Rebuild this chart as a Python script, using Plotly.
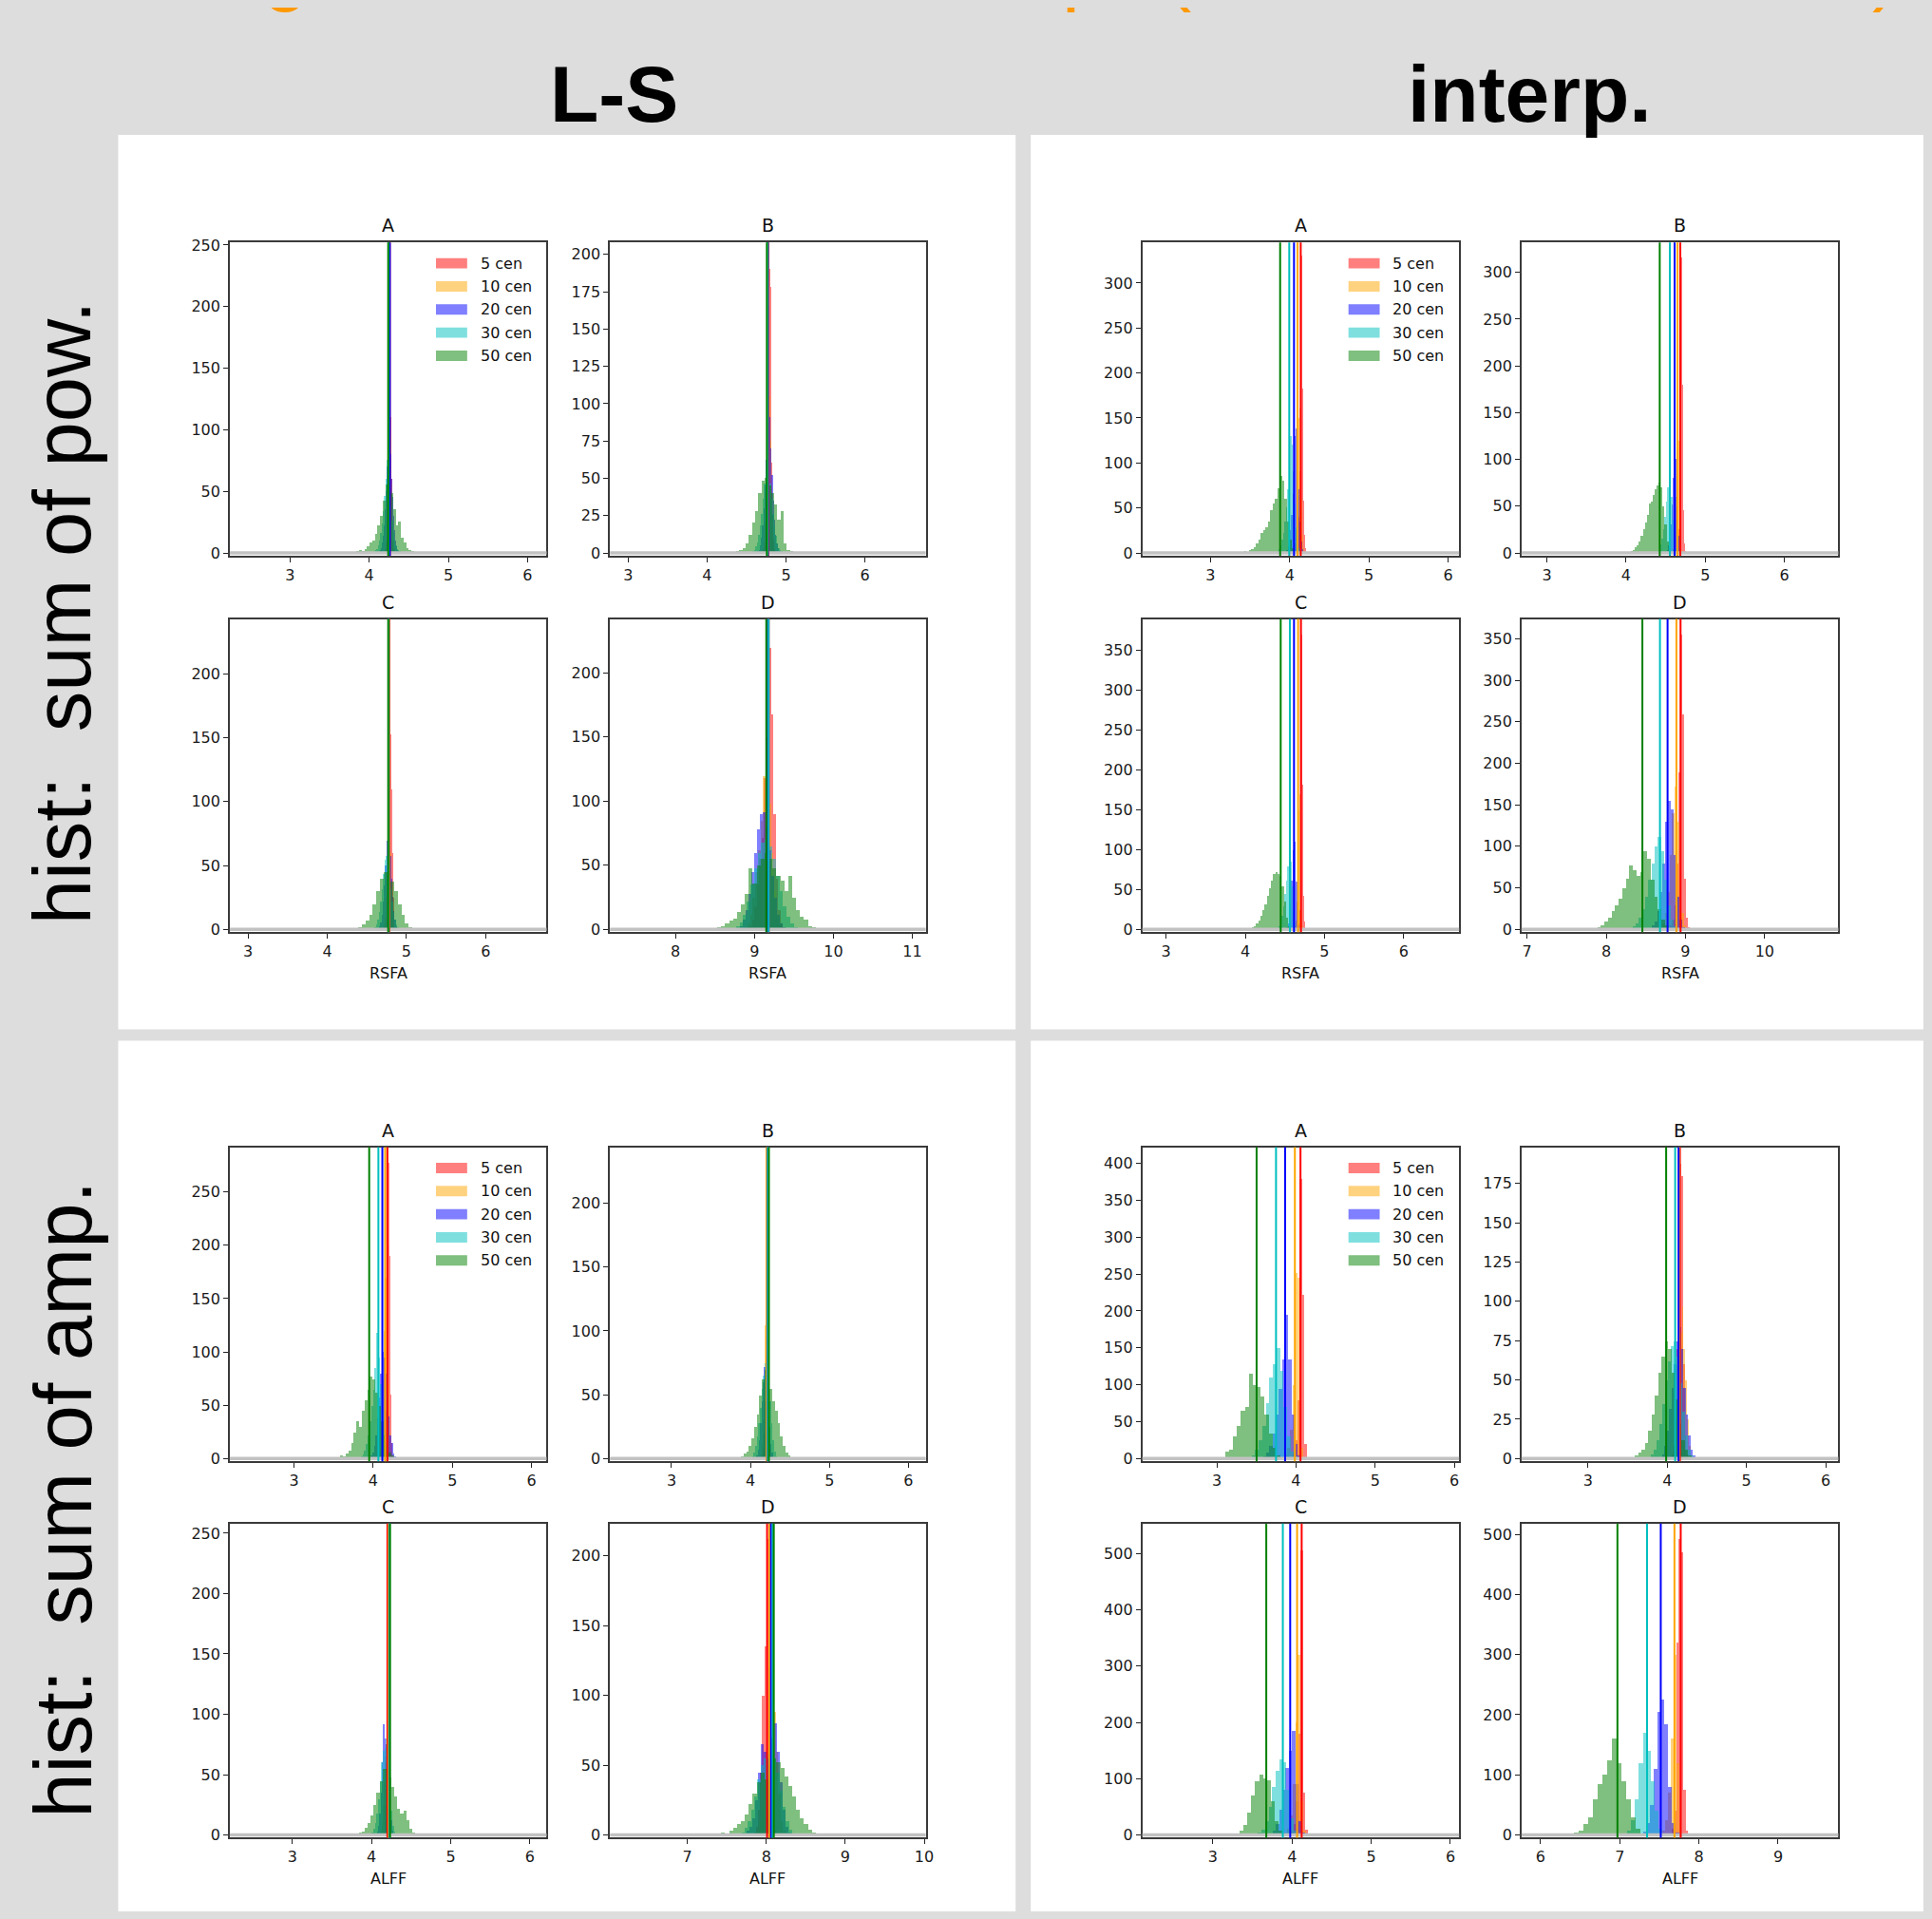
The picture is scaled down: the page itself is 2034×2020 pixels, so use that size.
import plotly.graph_objects as go

PAGE_W, PAGE_H = 2034, 2020
OFF = 8                       # default page margin around the figure
W, H = PAGE_W - 2 * OFF, PAGE_H - 2 * OFF


def px_x(p):
    return (p - OFF) / W


def px_y(p):
    return 1 - (p - OFF) / H


# ------------------------------------------------------------------ data
series_names = ["5 cen", "10 cen", "20 cen", "30 cen", "50 cen"]
row_titles = ["hist:\u00a0 sum of pow.", "hist:\u00a0 sum of amp."]
col_titles = ["L-S", "interp."]
subplot_letters = ["A", "B", "C", "D"]
x_labels = ["RSFA", "ALFF"]
# super-title: only the lower ends of a few glyphs are inside the picture
title_glyphs = ["g", "p", "(", ")"]
title_glyph_px = [302, 1147, 1246, 1994]

pow_ls_A_start = [4.205, 4.18, 4.12, 4.06, 3.84]
pow_ls_A_width = [0.008, 0.011, 0.013, 0.016, 0.033]
pow_ls_A_counts = [
    [2, 5, 12, 28, 60, 90, 130, 172, 110, 60, 25, 8, 3],
    [1, 3, 8, 18, 40, 70, 95, 150, 95, 55, 25, 10, 4, 1],
    [1, 2, 4, 8, 14, 22, 35, 50, 70, 85, 103, 80, 60, 45, 30, 18, 10, 5, 2, 1],
    [1, 2, 3, 6, 10, 16, 24, 34, 46, 60, 75, 62, 50, 38, 26, 17, 10, 6, 3, 2, 1],
    [1, 2, 1, 3, 5, 8, 10, 15, 22, 30, 42, 55, 52, 48, 35, 22, 25, 12, 8, 4, 2, 1],
]
pow_ls_A_means = [4.26, 4.255, 4.26, 4.245, 4.24]

pow_ls_B_start = [4.72, 4.69, 4.64, 4.58, 4.37]
pow_ls_B_width = [0.01, 0.012, 0.015, 0.018, 0.04]
pow_ls_B_counts = [
    [2, 6, 15, 35, 70, 118, 165, 190, 178, 120, 60, 25, 8, 2],
    [1, 3, 8, 20, 40, 70, 100, 118, 105, 75, 45, 22, 10, 3, 1],
    [1, 2, 5, 10, 18, 30, 45, 62, 77, 88, 91, 70, 52, 35, 22, 12, 6, 3, 1],
    [1, 2, 4, 7, 12, 18, 26, 36, 46, 56, 60, 55, 46, 36, 26, 18, 11, 6, 3, 2, 1],
    [1, 2, 3, 6, 12, 20, 28, 40, 48, 50, 45, 40, 32, 22, 28, 6, 2, 1],
]
pow_ls_B_means = [4.775, 4.77, 4.77, 4.765, 4.757]

pow_ls_C_start = [4.74, 4.70, 4.64, 4.58, 4.35]
pow_ls_C_width = [0.01, 0.012, 0.015, 0.018, 0.045]
pow_ls_C_counts = [
    [2, 8, 20, 45, 80, 120, 153, 110, 60, 25, 8, 2],
    [1, 4, 10, 25, 45, 70, 95, 88, 60, 35, 15, 5, 1],
    [1, 3, 6, 12, 22, 35, 50, 70, 80, 75, 58, 40, 26, 15, 8, 3, 1],
    [1, 2, 4, 8, 14, 22, 32, 44, 55, 58, 52, 42, 32, 22, 14, 8, 4, 2, 1],
    [1, 2, 4, 7, 12, 20, 30, 40, 45, 42, 38, 30, 20, 12, 5, 2, 1],
]
pow_ls_C_means = [4.785, 4.78, 4.775, 4.775, 4.77]

pow_ls_D_start = [8.94, 8.88, 8.78, 8.72, 8.38]
pow_ls_D_width = [0.03, 0.033, 0.036, 0.046, 0.05]
pow_ls_D_counts = [
    [3, 8, 18, 35, 55, 72, 118, 150, 220, 168, 90, 40, 15, 5, 2],
    [2, 5, 12, 25, 45, 62, 85, 120, 140, 98, 60, 30, 12, 4, 1],
    [1, 3, 8, 15, 28, 45, 60, 78, 90, 92, 80, 62, 42, 25, 12, 5, 2],
    [1, 3, 6, 12, 22, 35, 48, 60, 68, 70, 65, 55, 42, 30, 18, 10, 5, 2, 1],
    [1, 0, 1, 2, 3, 5, 7, 9, 14, 20, 28, 48, 36, 50, 55, 60, 55, 48, 42, 38, 30, 42, 25, 15, 10, 8, 3, 2],
]
pow_ls_D_means = [9.18, 9.175, 9.17, 9.18, 9.15]

pow_in_A_start = [4.07, 4.03, 3.94, 3.82, 3.42]
pow_in_A_width = [0.012, 0.012, 0.015, 0.018, 0.03]
pow_in_A_counts = [
    [2, 6, 15, 40, 90, 200, 330, 182, 58, 20, 5],
    [1, 4, 10, 25, 55, 100, 150, 160, 120, 60, 20, 5, 1],
    [1, 3, 7, 14, 25, 42, 65, 95, 130, 138, 110, 70, 35, 12, 4, 1],
    [1, 2, 4, 8, 14, 22, 35, 50, 70, 98, 130, 120, 90, 55, 28, 12, 5, 2],
    [2, 1, 3, 4, 6, 10, 14, 22, 25, 28, 35, 47, 55, 60, 72, 85, 80, 60, 35, 15, 5, 1],
]
pow_in_A_means = [4.14, 4.10, 4.055, 3.995, 3.88]

pow_in_B_start = [4.63, 4.58, 4.50, 4.38, 4.06]
pow_in_B_width = [0.012, 0.012, 0.014, 0.017, 0.025]
pow_in_B_counts = [
    [2, 8, 25, 70, 150, 316, 180, 45, 10, 2],
    [1, 4, 12, 30, 60, 110, 150, 120, 50, 15, 3],
    [1, 3, 8, 16, 30, 52, 80, 115, 134, 100, 50, 18, 5, 1],
    [1, 2, 5, 9, 15, 25, 38, 55, 70, 85, 82, 60, 35, 15, 5, 2],
    [2, 3, 6, 8, 12, 18, 25, 32, 40, 53, 55, 62, 68, 72, 75, 70, 50, 30, 12, 4, 1],
]
pow_in_B_means = [4.685, 4.65, 4.613, 4.553, 4.425]

pow_in_C_start = [4.65, 4.60, 4.50, 4.38, 4.05]
pow_in_C_width = [0.012, 0.013, 0.015, 0.018, 0.027]
pow_in_C_counts = [
    [2, 8, 25, 80, 370, 182, 43, 10, 2],
    [1, 4, 12, 35, 80, 150, 170, 90, 25, 5, 1],
    [1, 3, 8, 18, 35, 62, 100, 130, 110, 60, 22, 6, 1],
    [1, 2, 5, 10, 18, 30, 45, 62, 80, 95, 85, 55, 25, 8, 2],
    [2, 3, 5, 8, 12, 18, 25, 32, 42, 52, 62, 70, 72, 70, 68, 55, 35, 15, 5, 1],
]
pow_in_C_means = [4.703, 4.667, 4.615, 4.563, 4.447]

pow_in_D_start = [8.78, 8.65, 8.5, 8.25, 7.75]
pow_in_D_width = [0.025, 0.03, 0.035, 0.04, 0.045]
pow_in_D_counts = [
    [2, 5, 12, 30, 80, 190, 356, 260, 62, 15, 3],
    [1, 3, 8, 20, 45, 90, 140, 172, 130, 60, 20, 5],
    [1, 2, 5, 10, 22, 45, 80, 130, 155, 145, 90, 40, 12, 3, 1],
    [1, 2, 4, 8, 15, 25, 40, 60, 80, 100, 112, 95, 60, 30, 12, 4],
    [1, 2, 1, 3, 5, 10, 15, 22, 30, 38, 50, 62, 77, 72, 65, 70, 95, 85, 60, 40, 25, 12, 5, 2, 1],
]
pow_in_D_means = [8.938, 8.886, 8.774, 8.678, 8.456]

amp_ls_A_start = [4.13, 4.06, 3.95, 3.82, 3.55]
amp_ls_A_width = [0.01, 0.013, 0.02, 0.022, 0.034]
amp_ls_A_counts = [
    [2, 6, 18, 45, 100, 200, 278, 265, 190, 60, 15, 3],
    [1, 3, 8, 20, 40, 75, 120, 170, 200, 140, 70, 25, 8, 2],
    [1, 3, 6, 12, 22, 38, 58, 80, 100, 95, 80, 60, 40, 22, 15, 5, 2],
    [1, 2, 4, 8, 14, 22, 35, 50, 65, 85, 118, 95, 70, 45, 25, 12, 5, 2],
    [1, 3, 2, 5, 8, 15, 25, 35, 30, 45, 55, 65, 77, 75, 62, 50, 35, 22, 12, 6, 3, 1],
]
amp_ls_A_means = [4.18, 4.152, 4.116, 4.066, 3.95]

amp_ls_B_start = [4.15, 4.12, 4.06, 4.0, 3.85]
amp_ls_B_width = [0.01, 0.012, 0.016, 0.02, 0.033]
amp_ls_B_counts = [
    [2, 8, 20, 45, 80, 232, 110, 60, 25, 8, 2],
    [1, 4, 12, 30, 60, 105, 95, 70, 40, 18, 6, 1],
    [1, 3, 7, 15, 28, 45, 60, 72, 65, 55, 40, 25, 12, 5, 1],
    [1, 2, 5, 10, 18, 28, 40, 55, 65, 75, 80, 62, 45, 28, 15, 6, 2],
    [1, 2, 4, 6, 10, 16, 25, 35, 50, 62, 70, 65, 55, 45, 38, 28, 18, 10, 5, 3, 1],
]
amp_ls_B_means = [4.21, 4.205, 4.22, 4.22, 4.233]

amp_ls_C_start = [4.15, 4.1, 4.05, 3.98, 3.8]
amp_ls_C_width = [0.01, 0.013, 0.016, 0.02, 0.0375]
amp_ls_C_counts = [
    [2, 8, 25, 60, 128, 245, 90, 40, 12, 3],
    [1, 4, 10, 25, 45, 65, 75, 85, 60, 30, 10, 2],
    [1, 3, 8, 18, 35, 60, 92, 80, 75, 80, 55, 30, 12, 4, 1],
    [1, 2, 5, 10, 18, 30, 45, 60, 70, 72, 80, 60, 38, 20, 8, 3, 1],
    [1, 2, 3, 6, 10, 16, 25, 35, 45, 55, 55, 48, 40, 32, 22, 18, 20, 12, 5, 2],
]
amp_ls_C_means = [4.20, 4.215, 4.225, 4.228, 4.233]

amp_ls_D_start = [7.85, 7.85, 7.72, 7.65, 7.38]
amp_ls_D_width = [0.025, 0.03, 0.035, 0.04, 0.05]
amp_ls_D_counts = [
    [2, 6, 18, 45, 100, 135, 212, 120, 50, 15, 3],
    [1, 4, 10, 22, 40, 62, 78, 70, 88, 60, 30, 10, 3],
    [1, 3, 6, 12, 25, 45, 65, 60, 55, 62, 70, 80, 60, 38, 18, 6, 2],
    [1, 2, 5, 10, 18, 28, 40, 50, 55, 58, 60, 55, 45, 32, 20, 10, 4, 1],
    [1, 2, 1, 3, 5, 8, 10, 15, 22, 30, 38, 45, 40, 50, 55, 52, 48, 42, 35, 28, 18, 12, 8, 4, 2, 1],
]
amp_ls_D_means = [8.01, 8.04, 8.06, 8.08, 8.095]

amp_in_A_start = [3.92, 3.81, 3.54, 3.39, 3.1]
amp_in_A_width = [0.03, 0.035, 0.04, 0.045, 0.05]
amp_in_A_counts = [
    [2, 8, 25, 80, 380, 222, 20],
    [2, 6, 15, 40, 100, 252, 245, 15],
    [1, 3, 8, 18, 35, 60, 95, 135, 195, 135, 60, 20, 5],
    [2, 5, 12, 25, 45, 75, 110, 128, 150, 120, 70, 30, 10, 3],
    [10, 12, 30, 45, 65, 70, 115, 100, 98, 85, 60, 35, 15, 5, 2],
]
amp_in_A_means = [4.057, 3.986, 3.863, 3.748, 3.503]

amp_in_B_start = [4.06, 4.05, 3.9, 3.75, 3.55]
amp_in_B_width = [0.02, 0.022, 0.03, 0.036, 0.042]
amp_in_B_counts = [
    [2, 8, 25, 70, 130, 188, 180, 60, 15, 3],
    [1, 4, 12, 28, 55, 80, 97, 70, 50, 25, 8, 2],
    [1, 3, 8, 18, 32, 45, 60, 75, 84, 70, 45, 28, 15, 6, 2],
    [1, 3, 6, 12, 22, 35, 50, 62, 72, 75, 65, 48, 30, 15, 6, 2],
    [1, 2, 4, 6, 10, 18, 28, 40, 55, 65, 75, 70, 55, 38, 22, 12, 6, 2],
]
amp_in_B_means = [4.16, 4.15, 4.143, 4.10, 3.986]

amp_in_C_start = [3.955, 3.86, 3.675, 3.52, 3.33]
amp_in_C_width = [0.03, 0.035, 0.04, 0.045, 0.05]
amp_in_C_counts = [
    [2, 6, 20, 60, 180, 505, 75, 10],
    [1, 4, 12, 35, 90, 200, 320, 60, 8],
    [1, 3, 8, 20, 45, 80, 120, 150, 185, 90, 25, 5],
    [1, 4, 10, 25, 50, 85, 115, 135, 130, 80, 30, 8, 2],
    [8, 18, 40, 70, 95, 108, 100, 98, 60, 25, 8, 2],
]
amp_in_C_means = [4.122, 4.064, 3.977, 3.884, 3.675]

amp_in_D_start = [7.62, 7.5, 7.25, 7.04, 6.42]
amp_in_D_width = [0.03, 0.035, 0.045, 0.05, 0.06]
amp_in_D_counts = [
    [2, 10, 40, 320, 493, 470, 75, 8],
    [2, 8, 25, 70, 160, 300, 120, 20, 3],
    [2, 6, 20, 50, 110, 205, 225, 185, 80, 20, 5],
    [2, 8, 25, 60, 120, 170, 140, 90, 40, 10, 2],
    [5, 8, 18, 30, 60, 85, 100, 125, 160, 120, 90, 60, 30, 10, 3],
]
amp_in_D_means = [7.77, 7.691, 7.518, 7.345, 6.971]

# ------------------------------------------------------------------ axis settings (order: pow L-S A-D, pow interp A-D, amp L-S A-D, amp interp A-D)
x_centers = [4.24, 4.77, 4.77, 9.17, 4.14, 4.68, 4.70, 8.93,
             4.19, 4.22, 4.21, 8.02, 4.06, 4.16, 4.11, 7.76]
y_tops = [252, 208, 243, 242, 345, 332, 389, 374,
          292, 244, 258, 223, 422, 198, 553, 518]
y_dticks = [50, 25, 50, 50, 50, 50, 50, 50,
            50, 50, 50, 50, 50, 25, 100, 100]

subplot_data = [
    (pow_ls_A_start, pow_ls_A_width, pow_ls_A_counts, pow_ls_A_means),
    (pow_ls_B_start, pow_ls_B_width, pow_ls_B_counts, pow_ls_B_means),
    (pow_ls_C_start, pow_ls_C_width, pow_ls_C_counts, pow_ls_C_means),
    (pow_ls_D_start, pow_ls_D_width, pow_ls_D_counts, pow_ls_D_means),
    (pow_in_A_start, pow_in_A_width, pow_in_A_counts, pow_in_A_means),
    (pow_in_B_start, pow_in_B_width, pow_in_B_counts, pow_in_B_means),
    (pow_in_C_start, pow_in_C_width, pow_in_C_counts, pow_in_C_means),
    (pow_in_D_start, pow_in_D_width, pow_in_D_counts, pow_in_D_means),
    (amp_ls_A_start, amp_ls_A_width, amp_ls_A_counts, amp_ls_A_means),
    (amp_ls_B_start, amp_ls_B_width, amp_ls_B_counts, amp_ls_B_means),
    (amp_ls_C_start, amp_ls_C_width, amp_ls_C_counts, amp_ls_C_means),
    (amp_ls_D_start, amp_ls_D_width, amp_ls_D_counts, amp_ls_D_means),
    (amp_in_A_start, amp_in_A_width, amp_in_A_counts, amp_in_A_means),
    (amp_in_B_start, amp_in_B_width, amp_in_B_counts, amp_in_B_means),
    (amp_in_C_start, amp_in_C_width, amp_in_C_counts, amp_in_C_means),
    (amp_in_D_start, amp_in_D_width, amp_in_D_counts, amp_in_D_means),
]

# ------------------------------------------------------------------ styles
bar_colors = ["rgba(255,0,0,0.5)", "rgba(255,165,0,0.5)", "rgba(0,0,255,0.5)",
              "rgba(0,191,191,0.5)", "rgba(0,128,0,0.5)"]
line_colors = ["#ff0000", "#ffa500", "#0000ff", "#00bfbf", "#008000"]
TICK_FONT = dict(family="DejaVu Sans", size=16, color="#1a1a1a")
BIG_FONT = "Liberation Sans"

# page-pixel positions of the axes boxes
col_px = [(243, 578), (645, 979), (1208, 1543), (1609, 1944)]
row_px = [(250, 582), (649, 981), (1209, 1542), (1608, 1941)]

fig = go.Figure()
layout = {}
shapes = []
annotations = []

# white panels (page pixels; right/bottom ones run to the page edge)
for (x0, x1) in [(125, 1074), (1090, PAGE_W)]:
    for (y0, y1) in [(136, 1084), (1096, PAGE_H)]:
        shapes.append(dict(type="rect", xref="paper", yref="paper",
                           x0=px_x(x0), x1=px_x(x1), y0=px_y(y1), y1=px_y(y0),
                           fillcolor="white", line=dict(width=0), layer="below"))

k = 0
for br in range(2):
    for bc in range(2):
        for li in range(4):
            start, width, counts, means = subplot_data[k]
            c = x_centers[k]
            ytop = y_tops[k]
            k += 1
            gr = 2 * br + li // 2
            gc = 2 * bc + li % 2
            xa = "x" if k == 1 else f"x{k}"
            ya = "y" if k == 1 else f"y{k}"
            xkey = "xaxis" if k == 1 else f"xaxis{k}"
            ykey = "yaxis" if k == 1 else f"yaxis{k}"
            (px0, px1) = col_px[gc]
            (py0, py1) = row_px[gr]
            h_px = py1 - py0
            ymin = -ytop * 3.0 / (h_px - 3)
            layout[xkey] = dict(domain=[px_x(px0), px_x(px1)], anchor=ya,
                                range=[c - 2, c + 2], dtick=1, tick0=0,
                                ticks="outside", ticklen=5, tickwidth=1.3, tickcolor="#222",
                                showline=True, mirror=True, linecolor="#3a3a3a", linewidth=1.6,
                                showgrid=False, zeroline=False, tickfont=TICK_FONT, fixedrange=True)
            layout[ykey] = dict(domain=[px_y(py1), px_y(py0)], anchor=xa,
                                range=[ymin, ytop], dtick=y_dticks[k - 1], tick0=0,
                                ticks="outside", ticklen=5, tickwidth=1.3, tickcolor="#222",
                                showline=True, mirror=True, linecolor="#3a3a3a", linewidth=1.6,
                                showgrid=False, zeroline=False, tickfont=TICK_FONT, fixedrange=True)
            for s in range(5):
                xs = [start[s] + (j + 0.5) * width[s] for j in range(len(counts[s]))]
                fig.add_trace(go.Bar(x=xs, y=counts[s], width=width[s], name=series_names[s],
                                     marker=dict(color=bar_colors[s], line=dict(width=0)),
                                     xaxis=xa, yaxis=ya, showlegend=False, hoverinfo="skip"))
            # zero band
            shapes.append(dict(type="line", xref=f"{xa} domain", yref=ya, x0=0, x1=1, y0=0, y1=0,
                               line=dict(color="#c2c2c2", width=3.5), layer="above"))
            # mean lines
            for s in range(5):
                shapes.append(dict(type="line", xref=xa, yref=f"{ya} domain",
                                   x0=means[s], x1=means[s], y0=0, y1=1,
                                   line=dict(color=line_colors[s], width=2), layer="above"))
            # subplot title
            annotations.append(dict(text=subplot_letters[li], xref=f"{xa} domain", yref=f"{ya} domain",
                                    x=0.5, y=1, xanchor="center", yanchor="bottom", yshift=6,
                                    showarrow=False, borderpad=0,
                                    font=dict(family="DejaVu Sans", size=19, color="#111")))
            # x label
            if li >= 2:
                annotations.append(dict(text=x_labels[br], xref=f"{xa} domain", yref=f"{ya} domain",
                                        x=0.5, y=0, xanchor="center", yanchor="middle", yshift=-43,
                                        showarrow=False, borderpad=0,
                                        font=dict(family="DejaVu Sans", size=16, color="#111")))
            # legend
            if li == 0:
                wpx = px1 - px0
                for s in range(5):
                    cy = 22 + 24.5 * s
                    shapes.append(dict(type="rect", xref=f"{xa} domain", yref=f"{ya} domain",
                                       x0=218 / wpx, x1=251 / wpx,
                                       y0=1 - (cy + 5.5) / h_px, y1=1 - (cy - 5.5) / h_px,
                                       fillcolor=bar_colors[s], line=dict(width=0), layer="above"))
                    annotations.append(dict(text=series_names[s], xref=f"{xa} domain", yref=f"{ya} domain",
                                            x=264 / wpx, y=1 - cy / h_px, xanchor="left", yanchor="middle",
                                            showarrow=False, borderpad=0,
                                            font=dict(family="DejaVu Sans", size=16, color="#111")))

# column headers
for txt, cx in zip(col_titles, [649, 1618]):
    annotations.append(dict(text=f"<b>{txt}</b>", xref="paper", yref="paper", x=px_x(cx), y=px_y(93),
                            xanchor="center", yanchor="middle", showarrow=False, borderpad=0,
                            font=dict(family=BIG_FONT, size=84, color="black")))
# row headers
for txt, cy in zip(row_titles, [642, 1582]):
    annotations.append(dict(text=txt, xref="paper", yref="paper", x=px_x(66), y=px_y(cy),
                            xanchor="center", yanchor="middle", textangle=-90, showarrow=False,
                            borderpad=0, font=dict(family=BIG_FONT, size=85, color="black")))
# orange super-title, mostly above the top edge (only descenders visible, as in the reference)
for ch, cx in zip(title_glyphs, title_glyph_px):
    annotations.append(dict(text=ch, xref="paper", yref="paper", x=px_x(cx), y=px_y(7),
                            xanchor="center", yanchor="bottom", showarrow=False, borderpad=0,
                            font=dict(family=BIG_FONT, size=85, color="#ff9900")))

fig.update_layout(width=W, height=H, margin=dict(l=0, r=0, t=0, b=0),
                  paper_bgcolor="#dddddd", plot_bgcolor="rgba(0,0,0,0)", barmode="overlay",
                  bargap=0, dragmode=False, shapes=shapes, annotations=annotations,
                  showlegend=False, **layout)
# page keeps its default 8-px margin (so its size never changes); the margin is
# painted grey and the drawing may spill into it
fig.write_html(
    "out.html",
    config={"displayModeBar": False, "responsive": False},
    post_script=(
        "document.documentElement.style.background='#dddddd';"
        "document.body.style.background='#dddddd';"
        "document.querySelectorAll('.main-svg').forEach(function(s){s.style.overflow='visible';});"
    ),
)
